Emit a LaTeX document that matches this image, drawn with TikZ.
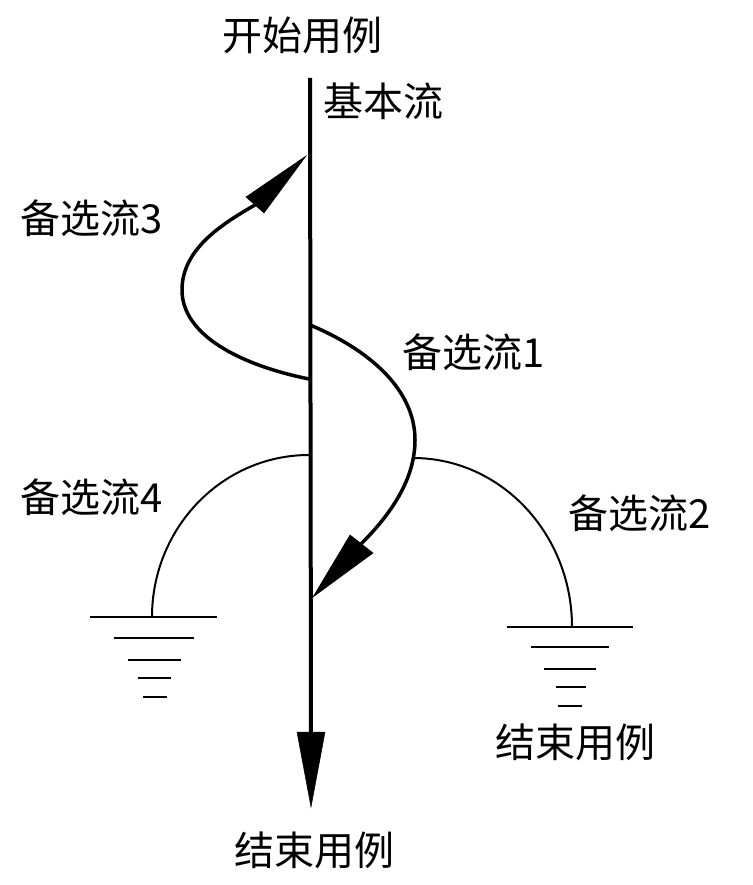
\documentclass[tikz,border=0pt]{standalone}
\usepackage{fontspec}
\newfontfamily\cjk{Noto Sans CJK SC}
\begin{document}
\begin{tikzpicture}[x=1pt,y=-1pt,
  lbl/.style={font=\cjk\fontsize{40}{44}\selectfont, inner sep=0pt, anchor=center},
  main/.style={line width=4pt},
  thick flow/.style={line width=3.5pt},
  thin flow/.style={line width=2pt},
  gnd/.style={line width=2pt},
  head/.style={fill=black, draw=black, line width=0.5pt, line join=miter}]
\useasboundingbox (0,0) rectangle (752,885);
\fill[white] (0,0) rectangle (752,885);

% labels
\node[lbl] (start) at (302,35) {开始用例};
\node[lbl] (basic) at (383,101) {基本流};
\node[lbl] (a3) at (92,218) {备选流3};
\node[lbl] (a1) at (474,352) {备选流1};
\node[lbl] (a4) at (92,497) {备选流4};
\node[lbl] (a2) at (640,513) {备选流2};
\node[lbl] (end2) at (575,742) {结束用例};
\node[lbl] (end) at (314,850) {结束用例};

% main flow
\coordinate (mtop) at (310,78);
\coordinate (mbase) at (311,735);
\coordinate (mtip) at (311,807);
\draw[main] (mtop) -- (mbase);
\fill[head] (mtip) -- (297,732) -- (325,732) -- cycle;

% alternative flow 3
\coordinate (a3s) at (309,379);
\coordinate (a3b) at (255,205);
\draw[thick flow] (a3s) .. controls (240,365) and (182,335) .. (182,290)
  .. controls (182,250) and (220,225) .. (a3b);
\fill[head] (306,156) -- (246,197) -- (264,213) -- cycle;

% alternative flow 1
\coordinate (a1s) at (310,325);
\coordinate (a1b) at (361,544);
\coordinate (a1r) at (413,458);
\draw[thick flow] (a1s) .. controls (370,350) and (415,390) .. (415,440)
  .. controls (415,480) and (390,515) .. (a1b);
\fill[head] (313,597) -- (350,535) -- (373,553) -- cycle;

% alternative flow 4
\coordinate (a4s) at (309,455);
\coordinate (g4) at (152,617);
\draw[thin flow] (a4s) .. controls (222,455) and (152,528) .. (g4);
\draw[gnd] (90,617) -- (217,617);
\draw[gnd] (114,638) -- (194,638);
\draw[gnd] (128,660) -- (181,660);
\draw[gnd] (138,678) -- (171,678);
\draw[gnd] (143,697) -- (167,697);

% alternative flow 2
\coordinate (g2) at (572,627);
\draw[thin flow] (a1r) .. controls (501,458) and (572,534) .. (g2);
\draw[gnd] (507,627) -- (633,627);
\draw[gnd] (531,647) -- (609,647);
\draw[gnd] (544,669) -- (596,669);
\draw[gnd] (556,687) -- (586,687);
\draw[gnd] (558,706) -- (582,706);
\end{tikzpicture}
\end{document}
